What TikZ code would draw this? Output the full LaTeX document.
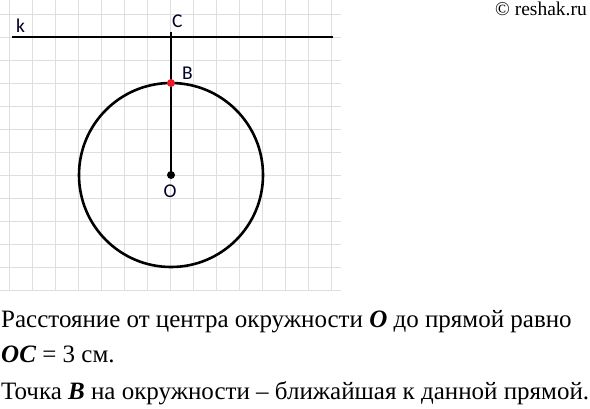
\documentclass[tikz,border=0pt]{standalone}
\usepackage{fontspec}
\setmainfont{Liberation Serif}
\newfontfamily\labelfont{Carlito}
\usepackage{tikz}
\usetikzlibrary{positioning}
\definecolor{gridgray}{RGB}{222, 222, 222}
\definecolor{pointred}{RGB}{237, 28, 36}

\begin{document}
\begin{tikzpicture}[
    x=1pt, y=-1pt,
    gridline/.style={gridgray, line width=1pt},
    thickline/.style={black, line width=2.6pt},
    thinline/.style={black, line width=1.2pt},
    dot/.style={circle, fill=black, inner sep=0pt, minimum size=8pt},
    ptlabel/.style={font=\labelfont\fontsize{19.5}{20}\selectfont, text=black!85!blue, inner sep=1pt},
    textline/.style={anchor=base west, inner sep=0pt, font=\fontsize{25}{28}\selectfont}
]
    \useasboundingbox (0,0) rectangle (590,408);

    % Grid
    \foreach \i in {0,...,14}
        \draw[gridline] (9+23*\i,0) -- (9+23*\i,291);
    \foreach \j in {0,...,12}
        \draw[gridline] (0,14+23*\j) -- (341,14+23*\j);

    % Points
    \coordinate (O) at (171,175);
    \coordinate (C) at (171,32);
    \coordinate (kstart) at (12,37);
    \coordinate (kend) at (333,37);
    \coordinate (B) at (171,83);

    % Line k and the circle
    \draw[thickline] (kstart) -- (kend);
    \draw[thickline] (O) circle (92);
    \draw[thinline] (C) -- (O);
    \node[dot] (Odot) at (O) {};
    \node[dot, fill=pointred] (Bdot) at (B) {};

    % Labels
    \node[ptlabel, anchor=base west] (klabel) at (15,32) {k};
    \node[ptlabel, anchor=base west] (Clabel) at (171,27) {C};
    \node[ptlabel, anchor=base west] (Blabel) at (181,79) {B};
    \node[ptlabel, anchor=base] (Olabel) at (170,197) {O};

    % Copyright
    \node[anchor=base east, inner sep=0pt, font=\fontsize{19.5}{19}\selectfont] (copy) at (587,15) {© reshak.ru};

    % Answer text
    \node[textline] (line1) at (1,327) {Расстояние от центра окружности \textit{\textbf{O}} до прямой равно};
    \node[textline] (line2) at (1,362) {\textit{\textbf{OC}} = 3 см.};
    \node[textline] (line3) at (1,399) {Точка \textit{\textbf{B}} на окружности – ближайшая к данной прямой.};

\end{tikzpicture}
\end{document}
